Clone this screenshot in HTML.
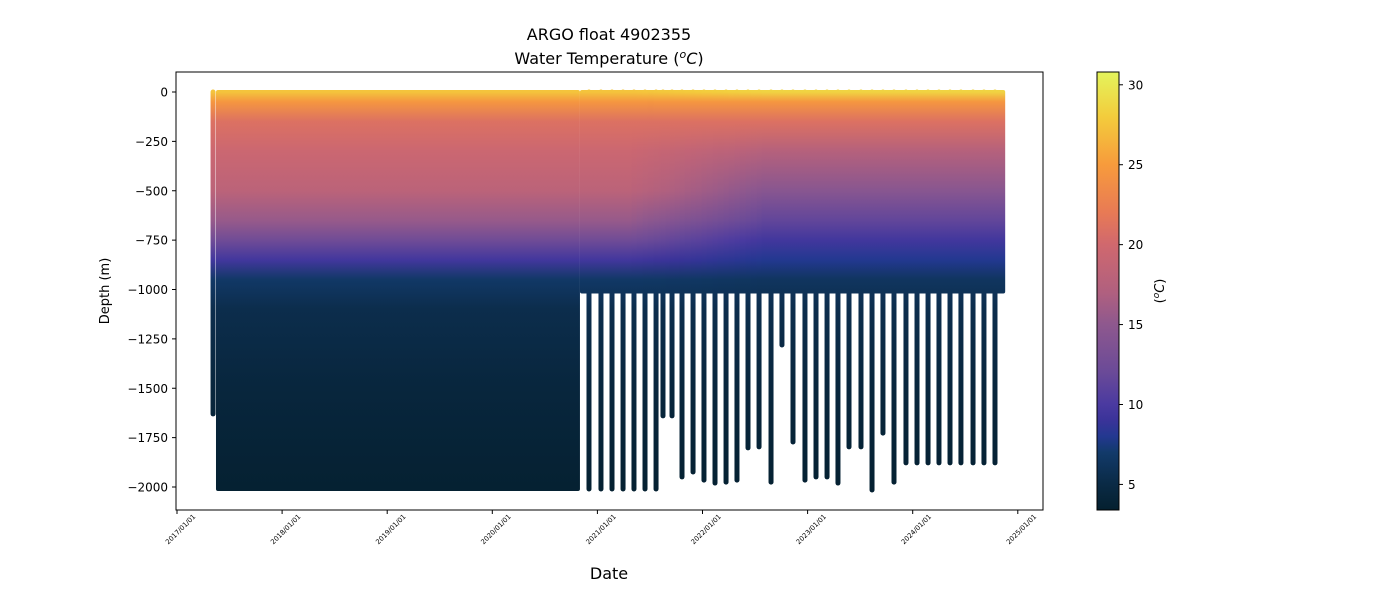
<!DOCTYPE html>
<html><head><meta charset="utf-8">
<style>
body{margin:0;background:#fff;}
svg{display:block;font-family:"DejaVu Sans","Liberation Sans",sans-serif;}
</style></head>
<body>
<svg id="chart" width="1400" height="600" viewBox="0 0 1400 600" xmlns="http://www.w3.org/2000/svg">
<defs id="defs"></defs>
<rect width="1400" height="600" fill="#fff"/>
<text x="609" y="40" font-size="16" text-anchor="middle">ARGO float 4902355</text>
<text x="609" y="64" font-size="16" text-anchor="middle">Water Temperature (<tspan font-style="italic" dy="-6" font-size="11">o</tspan><tspan font-style="italic" dy="6">C</tspan>)</text>
<g id="plot"></g>
<rect x="176" y="72" width="867" height="438" fill="none" stroke="#000" stroke-width="1"/>
<g id="yaxis"></g>
<g id="xaxis"></g>
<text transform="translate(109,291) rotate(-90)" font-size="13" text-anchor="middle">Depth (m)</text>
<text x="609" y="579" font-size="16" text-anchor="middle">Date</text>
<g id="cbar"></g>
<text transform="translate(1164,291) rotate(-90)" font-size="13" text-anchor="middle">(<tspan font-style="italic" dy="-5" font-size="9">o</tspan><tspan font-style="italic" dy="5">C</tspan>)</text>
</svg>
<script>
// ---- data ----
const depthLevels = [0, 50, 150, 300, 500, 650, 750, 850, 950, 1100, 1500, 2000];
const tempEarly   = [27.5, 24.5, 21, 19.5, 18, 15.5, 12.5, 9.5, 6.8, 5.4, 4.4, 3.6];
const tempLate    = [28.5, 24.5, 21, 17.5, 14.5, 11.5, 9.5, 8, 6.4, 5.4, 4.4, 3.6];
const firstProfileDate = 2017.343, firstProfileDepth = 1630;
const denseStart = 2017.371, denseEnd = 2020.834, denseDepth = 2010;
const shallowEnd = 2024.878, shallowDepth = 1010;
const deepDates = [2020.920,2021.034,2021.139,2021.244,2021.348,2021.453,2021.558,2021.624,2021.710,2021.805,2021.910,2022.014,2022.119,2022.224,2022.328,2022.433,2022.538,2022.652,2022.756,2022.861,2022.975,2023.080,2023.185,2023.289,2023.394,2023.508,2023.613,2023.717,2023.822,2023.936,2024.041,2024.146,2024.250,2024.355,2024.459,2024.574,2024.678,2024.783];
const deepDepths = [2010,2010,2010,2010,2010,2010,2010,1640,1640,1949,1924,1965,1980,1975,1965,1802,1797,1975,1281,1772,1965,1949,1949,1980,1797,1797,2015,1727,1975,1878,1878,1878,1878,1878,1878,1878,1878,1878];
const yTicks = [0,-250,-500,-750,-1000,-1250,-1500,-1750,-2000];
const yTickLabels = ["0","\u2212250","\u2212500","\u2212750","\u22121000","\u22121250","\u22121500","\u22121750","\u22122000"];
const xTickYears = [2017,2018,2019,2020,2021,2022,2023,2024,2025];
const xTickLabels = ["2017/01/01","2018/01/01","2019/01/01","2020/01/01","2021/01/01","2022/01/01","2023/01/01","2024/01/01","2025/01/01"];
const cbTicks = [5,10,15,20,25,30];
const cmapT = [3.4,5,7,8,9,10,12,15,17,20,22,25,28,30.8];
const cmapC = ["#04202f","#0a2a45","#123a6a","#233890","#3a3399","#4a3aa0","#6a4a98","#8e588e","#b0607f","#d0686e","#e87a55","#f79b3c","#f3cc3c","#e4f45c"];
// ---- scales ----
const NS="http://www.w3.org/2000/svg";
const xS = yr => 177 + (yr-2017)*105.1;
const yS = d => 92 + (-d)*(395/2000);
const yDepth = dep => 92 + dep*(395/2000);
const tMin=3.4,tMax=30.8;
const cbY = t => 510 - (t-tMin)/(tMax-tMin)*438;
function hex(h){return [1,3,5].map(i=>parseInt(h.substr(i,2),16));}
function cmap(t){
  t=Math.max(cmapT[0],Math.min(cmapT[cmapT.length-1],t));
  for(let i=0;i<cmapT.length-1;i++){
    if(t<=cmapT[i+1]){const f=(t-cmapT[i])/(cmapT[i+1]-cmapT[i]);const a=hex(cmapC[i]),b=hex(cmapC[i+1]);
      return "rgb("+a.map((v,k)=>Math.round(v+(b[k]-v)*f)).join(",")+")";}
  }
  return cmapC[cmapC.length-1];
}
const defs=document.getElementById('defs');
let gid=0;
function gradFor(year){
  const w=Math.max(0,Math.min(1,(year-2021.3)/(2022.6-2021.3)));
  const g=document.createElementNS(NS,'linearGradient');
  const id='g'+(gid++);
  g.setAttribute('id',id);g.setAttribute('gradientUnits','userSpaceOnUse');
  g.setAttribute('x1',0);g.setAttribute('x2',0);g.setAttribute('y1',yDepth(0));g.setAttribute('y2',yDepth(2000));
  depthLevels.forEach((d,i)=>{const s=document.createElementNS(NS,'stop');
    s.setAttribute('offset',d/2000);s.setAttribute('stop-color',cmap(tempEarly[i]*(1-w)+tempLate[i]*w));g.appendChild(s);});
  defs.appendChild(g);return 'url(#'+id+')';
}
const plot=document.getElementById('plot');
function line(year,dep,name,w){
  const l=document.createElementNS(NS,'line');
  
  
  l.setAttribute('x1',xS(year));l.setAttribute('x2',xS(year));
  l.setAttribute('y1',yDepth(0));l.setAttribute('y2',yDepth(dep));
  l.setAttribute('stroke',gradFor(year));l.setAttribute('stroke-width',w);l.setAttribute('stroke-linecap','round');
  plot.appendChild(l);
}
function rect(y0,y1,dep,name){
  const r=document.createElementNS(NS,'rect');
  
  
  r.setAttribute('x',xS(y0));r.setAttribute('width',xS(y1)-xS(y0));
  r.setAttribute('y',yDepth(0)-2);r.setAttribute('height',yDepth(dep)-yDepth(0)+4);
  r.setAttribute('rx',2);
  r.setAttribute('fill',gradFor((y0+y1)/2));
  plot.appendChild(r);
}
line(firstProfileDate,firstProfileDepth,'first-profile',5);
rect(denseStart,denseEnd,denseDepth,'dense-profiles-block');
const edges=[denseEnd,...deepDates,shallowEnd];
for(let i=0;i<edges.length-1;i++) rect(edges[i],edges[i+1]+0.002,shallowDepth,'shallow-profiles-segment');
deepDates.forEach((d,i)=>line(d,deepDepths[i],'deep-profile',5));
// y axis
const ya=document.getElementById('yaxis');
yTicks.forEach((v,i)=>{const y=yS(v);
  const t=document.createElementNS(NS,'line');t.setAttribute('x1',172);t.setAttribute('x2',176);t.setAttribute('y1',y);t.setAttribute('y2',y);t.setAttribute('stroke','#000');
  
  ya.appendChild(t);
  const tx=document.createElementNS(NS,'text');tx.setAttribute('x',168);tx.setAttribute('y',y+4.5);tx.setAttribute('font-size','12');tx.setAttribute('text-anchor','end');tx.textContent=yTickLabels[i];
  
  ya.appendChild(tx);});
// x axis
const xa=document.getElementById('xaxis');
xTickYears.forEach((v,i)=>{const x=xS(v);
  const t=document.createElementNS(NS,'line');t.setAttribute('x1',x);t.setAttribute('x2',x);t.setAttribute('y1',510);t.setAttribute('y2',514);t.setAttribute('stroke','#000');
  
  xa.appendChild(t);
  const tx=document.createElementNS(NS,'text');tx.setAttribute('transform','translate('+(x+19)+',517) rotate(-45)');tx.setAttribute('font-size','6.8');tx.setAttribute('text-anchor','end');tx.textContent=xTickLabels[i];
  
  xa.appendChild(tx);});
// colorbar
const cb=document.getElementById('cbar');
const cg=document.createElementNS(NS,'linearGradient');cg.setAttribute('id','cbg');cg.setAttribute('x1',0);cg.setAttribute('x2',0);cg.setAttribute('y1',1);cg.setAttribute('y2',0);
cmapT.forEach((t,i)=>{const s=document.createElementNS(NS,'stop');s.setAttribute('offset',(t-tMin)/(tMax-tMin));s.setAttribute('stop-color',cmapC[i]);cg.appendChild(s);});
defs.appendChild(cg);
const cr=document.createElementNS(NS,'rect');cr.setAttribute('x',1097);cr.setAttribute('y',72);cr.setAttribute('width',22);cr.setAttribute('height',438);cr.setAttribute('fill','url(#cbg)');cr.setAttribute('stroke','#000');

cb.appendChild(cr);
cbTicks.forEach(v=>{const y=cbY(v);
  const t=document.createElementNS(NS,'line');t.setAttribute('x1',1119);t.setAttribute('x2',1123);t.setAttribute('y1',y);t.setAttribute('y2',y);t.setAttribute('stroke','#000');
  
  cb.appendChild(t);
  const tx=document.createElementNS(NS,'text');tx.setAttribute('x',1128);tx.setAttribute('y',y+4.5);tx.setAttribute('font-size','12');tx.textContent=v;
  
  cb.appendChild(tx);});
</script>
</body></html>
